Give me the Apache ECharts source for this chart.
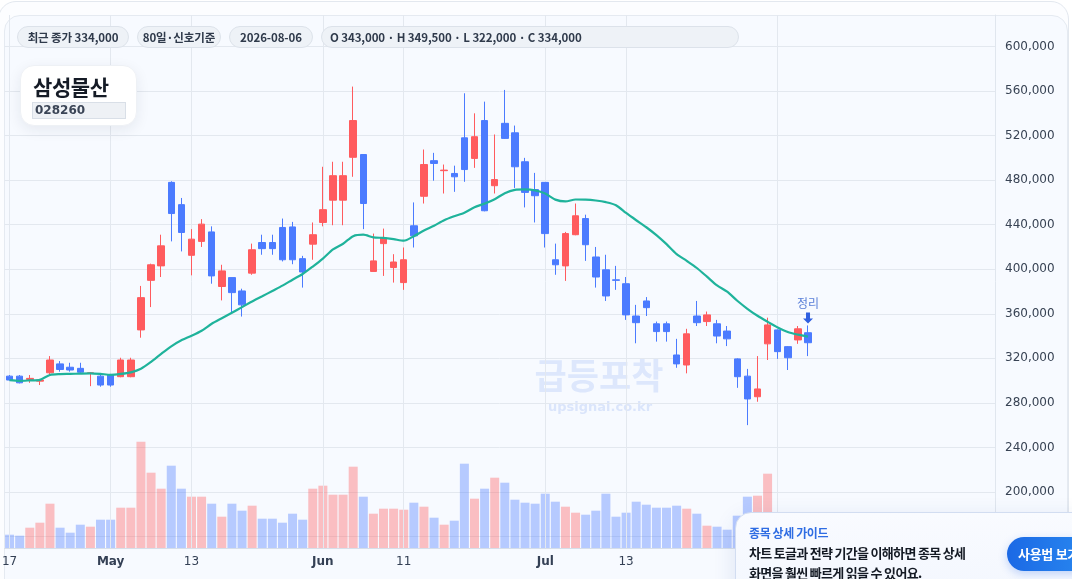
<!DOCTYPE html>
<html><head><meta charset="utf-8">
<script src="https://cdn.jsdelivr.net/npm/echarts@6/dist/echarts.min.js"></script>
<style>
html,body{margin:0;padding:0;width:1072px;height:579px;overflow:hidden;background:#ffffff;font-family:"Noto Sans CJK KR","DejaVu Sans",sans-serif;}
.outer{position:absolute;left:-2px;top:1px;width:1071px;height:640px;border:1px solid #e3e8ef;border-radius:18px;background:#fcfdff;box-sizing:border-box;}
.inner{position:absolute;left:4px;top:15px;width:1064px;height:640px;border:1px solid #e5eaf1;border-radius:16px;background:#f7faff;box-sizing:border-box;}
#chart{position:absolute;left:0;top:0;width:1072px;height:579px;}
.pill{position:absolute;top:26px;height:22px;line-height:20px;border:1px solid #dce2ea;border-radius:11px;background:#eef2f7;font-size:11.5px;font-weight:700;color:#2f3a4b;text-align:center;box-sizing:border-box;white-space:nowrap;letter-spacing:-0.1px;}
.title{position:absolute;left:20px;top:65px;width:117px;height:61px;background:#ffffff;border:1px solid #eef1f5;border-radius:14px;box-sizing:border-box;box-shadow:0 4px 14px rgba(20,35,70,0.08);}
.title .name{position:absolute;left:12px;top:5px;font-size:21px;font-weight:700;color:#151b26;letter-spacing:-0.4px;line-height:30px;}
.title .code{position:absolute;left:11px;top:36px;width:94px;height:17px;background:#eef1f5;border:1px solid #d9dfe7;box-sizing:border-box;font-family:"DejaVu Sans",sans-serif;font-size:12px;font-weight:700;color:#3b4556;line-height:15px;padding-left:2px;}
.guide{position:absolute;left:735px;top:512px;width:360px;height:100px;border:1px solid #d2ddf1;border-radius:16px;background:linear-gradient(180deg,#f9fbff,#f2f6fe);box-sizing:border-box;box-shadow:0 6px 22px rgba(40,80,160,0.13);}
.g1{position:absolute;left:749px;top:525px;font-size:12px;font-weight:600;color:#2f6de3;letter-spacing:-0.4px;line-height:16px;white-space:nowrap;}
.g2{position:absolute;left:749px;top:544px;font-size:13px;font-weight:700;color:#141a24;letter-spacing:-0.7px;line-height:18px;white-space:nowrap;}
.g3{position:absolute;left:749px;top:564px;font-size:13px;font-weight:700;color:#141a24;letter-spacing:-0.7px;line-height:18px;white-space:nowrap;}
.btn{position:absolute;left:1007px;top:537px;width:96px;height:34px;border-radius:17px;background:linear-gradient(90deg,#1b69e5,#2b8cf1);color:#fff;font-size:13px;font-weight:700;line-height:34px;padding-left:11px;box-sizing:border-box;white-space:nowrap;letter-spacing:-0.3px;box-shadow:0 3px 8px rgba(30,100,230,0.25);}
</style>
</head>
<body>
<div class="outer"></div>
<div class="inner"></div>
<div id="chart"></div>
<div class="pill" id="p1" style="left:17px;width:112px;"></div>
<div class="pill" id="p2" style="left:137px;width:84px;"></div>
<div class="pill" id="p3" style="left:229px;width:84px;"></div>
<div class="pill" id="p4" style="left:321px;width:418px;text-align:left;padding-left:8px;"></div>
<div class="title"><div class="name" id="tname"></div><div class="code" id="tcode"></div></div>
<div class="guide"></div>
<div class="g1">종목 상세 가이드</div>
<div class="g2">차트 토글과 전략 기간을 이해하면 종목 상세</div>
<div class="g3">화면을 훨씬 빠르게 읽을 수 있어요.</div>
<div class="btn">사용법 보기</div>
<script>
// ---------- data ----------
const stockName = '삼성물산';
const stockCode = '028260';
const periodLabel = '80일·신호기준';
const signalLabel = '정리';

const dates = [
 '2026-04-17','2026-04-20','2026-04-21','2026-04-22','2026-04-23','2026-04-24','2026-04-27','2026-04-28','2026-04-29','2026-04-30',
 '2026-05-01','2026-05-04','2026-05-05','2026-05-06','2026-05-07','2026-05-08','2026-05-11','2026-05-12','2026-05-13','2026-05-14',
 '2026-05-15','2026-05-18','2026-05-19','2026-05-20','2026-05-21','2026-05-22','2026-05-25','2026-05-26','2026-05-27','2026-05-28',
 '2026-05-29','2026-06-01','2026-06-02','2026-06-03','2026-06-04','2026-06-05','2026-06-08','2026-06-09','2026-06-10','2026-06-11',
 '2026-06-12','2026-06-15','2026-06-16','2026-06-17','2026-06-18','2026-06-19','2026-06-22','2026-06-23','2026-06-24','2026-06-25',
 '2026-06-26','2026-06-29','2026-06-30','2026-07-01','2026-07-02','2026-07-03','2026-07-06','2026-07-07','2026-07-08','2026-07-09',
 '2026-07-10','2026-07-13','2026-07-14','2026-07-15','2026-07-16','2026-07-17','2026-07-20','2026-07-21','2026-07-22','2026-07-23',
 '2026-07-24','2026-07-27','2026-07-28','2026-07-29','2026-07-30','2026-07-31','2026-08-03','2026-08-04','2026-08-05','2026-08-06'
];
const opens = [
 304000,304000,301000,299500,307000,315000,312000,311000,306500,304000,
 305000,303500,303500,345500,390000,403000,478000,458000,412500,425000,
 433500,384500,392500,380500,396500,424000,424000,437500,438000,409500,
 422500,442000,462000,462000,500500,503000,398000,423000,401500,388000,
 439000,465500,497500,488500,486000,518000,499500,533500,475000,531000,
 522500,496500,471500,478000,408500,403000,431000,445500,411000,399500,
 390500,387000,358000,371500,351000,351000,323000,314000,358000,353000,
 351000,344500,319500,304000,285500,333000,345500,330500,336500,343000
];
const closes = [
 300500,298000,302000,300500,318500,310000,309500,307500,307000,296000,
 296000,318500,318500,374500,404000,421000,450000,433000,427000,440500,
 394000,398500,379000,368000,417500,418500,418500,408500,408500,397500,
 431000,453500,484000,484000,533500,459000,407500,428000,406500,408500,
 430000,494000,495000,489000,483000,489500,519000,452500,480500,517500,
 492000,469000,466000,432000,404000,432000,448000,422000,393000,376000,
 390000,359000,352000,365500,344000,344000,315000,342000,352000,359000,
 340000,337500,303500,283500,292500,350000,326000,320500,346500,334000
];
const lows = [
 300000,297500,298000,296000,305000,308000,308000,306500,295000,294500,
 294500,303000,303000,338500,366000,393000,425000,416000,394500,420000,
 387000,372000,361000,357500,395000,413000,413000,407000,404500,383500,
 408500,438500,439500,439500,483000,436000,398000,394000,388000,381500,
 419500,459000,479500,468000,469500,478500,491000,452000,468000,517000,
 473000,455500,442000,419500,395000,389500,430500,407500,383500,371500,
 381500,354500,333500,358000,335000,335000,311500,306500,349000,349000,
 333500,331000,293500,260000,281000,318500,319500,309500,333000,322000
];
const highs = [
 305000,305000,305000,301500,322000,317500,316000,316000,307500,306000,
 306000,320500,320500,385000,405000,431000,479000,464000,436000,445000,
 438500,404000,392500,382500,423000,431000,431000,445500,442500,412000,
 442000,492000,496500,496500,564000,503000,432000,436500,413500,419500,
 460000,507500,504500,494000,493000,558000,540000,550500,521000,561000,
 529000,500000,486500,478000,423000,433500,459000,449000,420000,413000,
 403000,393000,368000,375000,353000,353000,337500,346500,371500,362000,
 354500,349000,320000,310500,322000,356500,346000,331000,349000,349500
];
const volumes = [
 133000,123000,203000,253000,443000,203000,153000,233000,213000,283000,
 283000,403000,403000,1063000,753000,593000,823000,593000,513000,513000,
 443000,313000,443000,373000,423000,293000,293000,253000,343000,283000,
 593000,623000,533000,533000,813000,513000,343000,393000,393000,383000,
 453000,413000,303000,233000,273000,843000,493000,593000,703000,653000,
 483000,453000,443000,543000,463000,413000,353000,333000,373000,543000,
 313000,353000,463000,433000,403000,403000,423000,393000,343000,223000,
 213000,183000,323000,513000,523000,743000,330000,280000,300000,340000
];
const maLine = [
 300500,299800,300200,300700,305000,305800,306000,306300,306500,306000,
 305200,306000,307400,310600,316800,324000,330800,336200,340200,344700,
 351000,356000,360900,366000,371000,375700,380500,385300,390600,395700,
 402400,409600,417800,422900,429700,431000,428600,428100,427000,425600,
 429700,434800,439100,444000,447600,450800,455700,458900,462900,468300,
 471300,471700,470800,467900,462500,460900,462600,462500,461700,460200,
 457500,450500,444000,437700,430600,422500,413600,407500,401100,393300,
 385400,379800,371700,364500,358200,352800,347700,343600,341300,339500
];
const tickIndex = [0, 10, 18, 31, 39, 53, 61, 76];
const tickText  = ['17', 'May', '13', 'Jun', '11', 'Jul', '13', 'Aug'];
const monthNames = ['May', 'Jun', 'Jul', 'Aug'];
const priceMin = 160000, priceMax = 600000, priceStep = 40000;
const futureSlots = 18;

// ---------- helpers ----------
const fmt = v => String(Math.round(v)).replace(/\B(?=(\d{3})+(?!\d))/g, ',');
const last = dates.length - 1;

document.getElementById('p1').textContent = '최근 종가 ' + fmt(closes[last]);
document.getElementById('p2').textContent = periodLabel;
document.getElementById('p3').textContent = dates[last];
document.getElementById('p4').textContent = 'O ' + fmt(opens[last]) + ' · H ' + fmt(highs[last]) + ' · L ' + fmt(lows[last]) + ' · C ' + fmt(closes[last]);
document.getElementById('tname').textContent = stockName;
document.getElementById('tcode').textContent = stockCode;

const UP = '#ff5b5e', DOWN = '#4b7bff';
const UP_V = 'rgba(255,91,94,0.38)', DOWN_V = 'rgba(75,123,255,0.38)';

const slots = dates.concat(Array.from({length: futureSlots}, (_, i) => '+' + (i + 1)));
const candleData = dates.map((d, i) => [opens[i], closes[i], lows[i], highs[i]]);
const volData = volumes.map((v, i) => ({ value: v, itemStyle: { color: closes[i] >= opens[i] ? UP_V : DOWN_V } }));

const chart = echarts.init(document.getElementById('chart'), null, { renderer: 'canvas' });
const gridLeft = 4.5, gridRight = 1072 - 995;
chart.setOption({
  animation: false,
  backgroundColor: 'transparent',
  grid: [
    { left: gridLeft, right: gridRight, top: 15, height: 533, containLabel: false, outerBoundsMode: 'none' },
    { left: gridLeft, right: gridRight, top: 46.5, height: 490, containLabel: false, outerBoundsMode: 'none' }
  ],
  xAxis: [
    {
      type: 'category', gridIndex: 0, data: slots, boundaryGap: true,
      axisLine: { show: true, lineStyle: { color: '#d6dee9', width: 1 } },
      axisTick: { show: false },
      splitLine: { show: false },
      axisLabel: {
        interval: (idx) => tickIndex.indexOf(idx) >= 0,
        formatter: (val, idx) => {
          const k = tickIndex.indexOf(idx);
          if (k < 0) return '';
          const t = tickText[k];
          return monthNames.indexOf(t) >= 0 ? '{b|' + t + '}' : '{n|' + t + '}';
        },
        margin: 8,
        hideOverlap: false,
        rich: {
          b: { fontFamily: 'DejaVu Sans', fontSize: 12, fontWeight: 'bold', color: '#344055' },
          n: { fontFamily: 'DejaVu Sans', fontSize: 12, color: '#344055' }
        }
      }
    },
    { type: 'category', gridIndex: 1, data: slots, boundaryGap: true, show: false, splitLine: { show: false } }
  ],
  yAxis: [
    {
      type: 'value', gridIndex: 0, position: 'right', min: 0, max: 5330000,
      axisLine: { show: true, lineStyle: { color: '#e0e6ee' } },
      axisTick: { show: false }, axisLabel: { show: false }, splitLine: { show: false }
    },
    {
      type: 'value', gridIndex: 1, position: 'right', min: priceMin, max: priceMax, interval: priceStep,
      axisLine: { show: false }, axisTick: { show: false },
      splitLine: { show: true, lineStyle: { color: '#e3e8ef', width: 1 } },
      axisLabel: { margin: 10, color: '#384354', fontSize: 12, fontFamily: 'DejaVu Sans', formatter: v => fmt(v) }
    }
  ],
  graphic: [
    { type: 'text', x: 599, y: 376, z: 0, silent: true,
      style: { text: '급등포착', fontSize: 35, fontWeight: 'bold', fontFamily: 'Noto Sans CJK KR',
               fill: 'rgba(90,135,235,0.16)', align: 'center', verticalAlign: 'middle', textAlign: 'center', textVerticalAlign: 'middle' } },
    { type: 'text', x: 600, y: 408, z: 0, silent: true,
      style: { text: 'upsignal.co.kr', fontSize: 13, fontWeight: 'bold', fontFamily: 'DejaVu Sans',
               fill: 'rgba(90,135,235,0.18)', align: 'center', verticalAlign: 'middle', textAlign: 'center', textVerticalAlign: 'middle' } }
  ],
  series: [
    {
      name: 'volume', type: 'bar', xAxisIndex: 0, yAxisIndex: 0, data: volData,
      barWidth: '89%', z: 2, silent: true,
      markLine: {
        silent: true, symbol: ['none', 'none'], animation: false,
        label: { show: false },
        lineStyle: { color: '#e3e8ef', width: 1, type: 'solid' },
        emphasis: { disabled: true },
        data: tickIndex.map(i => ({ xAxis: slots[i] }))
      }
    },
    {
      name: 'price', type: 'candlestick', xAxisIndex: 1, yAxisIndex: 1, data: candleData,
      barWidth: 7, z: 5, clip: false,
      itemStyle: { color: UP, color0: DOWN, borderColor: UP, borderColor0: DOWN, borderWidth: 1 },
      markPoint: {
        silent: true,
        data: [{ coord: [dates[last], highs[last]] }],
        symbol: 'path://M3,0 L7,0 L7,6 L10,6 L5,11 L0,6 L3,6 Z',
        symbolSize: [10, 11],
        symbolOffset: [0, -7.5],
        itemStyle: { color: '#2f5fe0' },
        label: { show: true, position: 'top', distance: 3, formatter: signalLabel,
                 color: '#5a7fd8', fontSize: 12, fontFamily: 'Noto Sans CJK KR' }
      }
    },
    {
      name: 'MA', type: 'line', xAxisIndex: 1, yAxisIndex: 1, data: maLine,
      symbol: 'none', smooth: 0.25, z: 6, silent: true,
      lineStyle: { color: '#1fb39b', width: 2.2 }
    }
  ]
});
</script>
</body></html>
